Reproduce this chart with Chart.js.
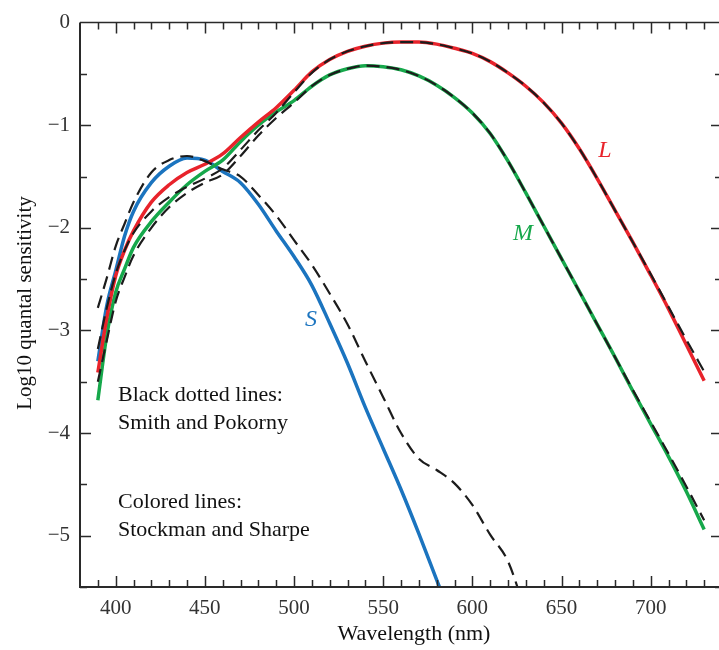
<!DOCTYPE html>
<html>
<head>
<meta charset="utf-8">
<title>Cone fundamentals</title>
<script src="https://cdn.jsdelivr.net/npm/chart.js@4.4.1/dist/chart.umd.min.js"></script>
<style>
html, body { margin: 0; padding: 0; background: #fff; overflow: hidden; }
#wrap { width: 719px; height: 650px; overflow: hidden; }
canvas { display: block; }
</style>
</head>
<body>
<div id="wrap"><canvas id="coneChart" width="740" height="650" style="width:740px;height:650px"></canvas></div>
<script>
// 波长 (nm)
const wavelengths = [390, 395, 400, 405, 410, 420, 430, 440, 450, 460, 470, 480, 490, 500, 510, 520, 530, 540, 550,
    560, 570, 580, 590, 600, 610, 620, 630, 640, 650, 660, 670, 680, 690, 700, 710, 720, 730];
const wavelengthsS = [390, 395, 400, 405, 410, 420, 430, 440, 450, 460, 470, 480, 490, 500, 510, 520, 530, 540, 550,
    560, 570, 580, 590];
const wavelengthsSDash = [390, 395, 400, 405, 410, 420, 430, 440, 450, 460, 470, 480, 490, 500, 510, 520, 530, 540, 550,
    560, 570, 580, 590, 600, 610, 620, 630];

// Stockman and Sharpe (colored)
const lStockman = [-3.41, -2.88, -2.47, -2.22, -2.03, -1.75, -1.58, -1.46, -1.38, -1.28, -1.12, -0.97, -0.83, -0.66, -0.48,
    -0.36, -0.28, -0.23, -0.20, -0.19, -0.19, -0.21, -0.25, -0.30, -0.38, -0.49, -0.62, -0.78, -0.98, -1.23, -1.52,
    -1.83, -2.14, -2.46, -2.79, -3.14, -3.49];
const mStockman = [-3.68, -3.05, -2.63, -2.40, -2.19, -1.94, -1.75, -1.58, -1.45, -1.34, -1.16, -1.00, -0.87, -0.76, -0.62,
    -0.51, -0.45, -0.42, -0.43, -0.46, -0.52, -0.61, -0.73, -0.88, -1.08, -1.35, -1.66, -1.98, -2.30, -2.62, -2.94,
    -3.26, -3.59, -3.91, -4.23, -4.57, -4.94];
const sStockman = [-3.30, -2.76, -2.42, -2.08, -1.84, -1.56, -1.40, -1.32, -1.34, -1.45, -1.56, -1.77, -2.03, -2.28, -2.56,
    -2.93, -3.32, -3.75, -4.15, -4.55, -4.98, -5.43, -5.88];

// Smith and Pokorny (black dashed)
const lPokorny = [-3.18, -2.78, -2.45, -2.22, -2.05, -1.84, -1.70, -1.60, -1.52, -1.42, -1.24, -1.05, -0.88, -0.68, -0.49,
    -0.36, -0.28, -0.23, -0.20, -0.19, -0.19, -0.21, -0.25, -0.30, -0.38, -0.49, -0.62, -0.78, -0.98, -1.23, -1.52,
    -1.83, -2.14, -2.45, -2.77, -3.09, -3.40];
const mPokorny = [-3.50, -3.10, -2.72, -2.48, -2.27, -2.00, -1.80, -1.66, -1.56, -1.48, -1.30, -1.10, -0.93, -0.78, -0.62,
    -0.51, -0.45, -0.42, -0.43, -0.46, -0.52, -0.61, -0.73, -0.88, -1.08, -1.35, -1.66, -1.98, -2.30, -2.62, -2.94,
    -3.26, -3.58, -3.89, -4.20, -4.52, -4.85];
const sPokorny = [-2.78, -2.49, -2.18, -1.96, -1.75, -1.46, -1.34, -1.30, -1.35, -1.43, -1.50, -1.68, -1.88, -2.12, -2.36,
    -2.64, -2.94, -3.30, -3.65, -4.00, -4.25, -4.36, -4.49, -4.70, -4.99, -5.25, -5.75];

// 刻度
const xTickLabels = [400, 450, 500, 550, 600, 650, 700];
const yTickLabels = [0, -1, -2, -3, -4, -5];

const FONT = '"Liberation Serif", "DejaVu Serif", serif';
const RED = '#e8232b';
const GREEN = '#16a84b';
const BLUE = '#1b74bf';
const AXIS = '#2a2a2a';

function toPoints(xs, ys) {
    return xs.map((x, i) => ({ x: x, y: ys[i] }));
}

function colored(label, xs, ys, color) {
    return {
        label: label,
        data: toPoints(xs, ys),
        borderColor: color,
        borderWidth: 3.5,
        pointRadius: 0,
        cubicInterpolationMode: 'monotone',
        order: 1
    };
}

function dashed(label, xs, ys) {
    return {
        label: label,
        data: toPoints(xs, ys),
        borderColor: '#1c1c1c',
        borderWidth: 2.2,
        borderDash: [13, 7],
        pointRadius: 0,
        cubicInterpolationMode: 'monotone',
        order: 0
    };
}

// 坐标框、内向刻度、标题和注释
const framePlugin = {
    id: 'frame',
    afterDraw(chart) {
        const ctx = chart.ctx;
        const xs = chart.scales.x;
        const ys = chart.scales.y;
        const a = chart.chartArea;
        ctx.save();
        ctx.strokeStyle = AXIS;
        ctx.lineCap = 'butt';

        ctx.lineWidth = 2;
        ctx.beginPath();
        ctx.moveTo(a.left, a.top);
        ctx.lineTo(a.left, a.bottom);
        ctx.lineTo(a.right, a.bottom);
        ctx.stroke();
        ctx.lineWidth = 1.5;
        ctx.beginPath();
        ctx.moveTo(a.left, a.top);
        ctx.lineTo(a.right, a.top);
        ctx.lineTo(a.right, a.bottom);
        ctx.stroke();

        ctx.lineWidth = 1.5;
        for (let w = 390; w <= 730; w += 10) {
            const px = Math.round(xs.getPixelForValue(w)) + 0.5;
            const len = w % 50 === 0 ? 11 : 7;
            ctx.beginPath();
            ctx.moveTo(px, a.bottom);
            ctx.lineTo(px, a.bottom - len);
            ctx.moveTo(px, a.top);
            ctx.lineTo(px, a.top + len);
            ctx.stroke();
        }
        for (let v = -5.5; v < 0; v += 0.5) {
            const py = Math.round(ys.getPixelForValue(v)) + 0.5;
            const len = Number.isInteger(v) ? 11 : 7;
            ctx.beginPath();
            ctx.moveTo(a.left, py);
            ctx.lineTo(a.left + len, py);
            ctx.moveTo(a.right, py);
            ctx.lineTo(a.right - len, py);
            ctx.stroke();
        }

        // 轴标题
        ctx.fillStyle = '#111';
        ctx.font = '22px ' + FONT;
        ctx.textAlign = 'center';
        ctx.textBaseline = 'middle';
        ctx.fillText('Wavelength (nm)', 414, 634);
        ctx.save();
        ctx.translate(25, 303);
        ctx.rotate(-Math.PI / 2);
        ctx.font = '21px ' + FONT;
        ctx.fillText('Log10 quantal sensitivity', 0, 0);
        ctx.restore();

        // 注释
        ctx.textAlign = 'left';
        ctx.fillText('Black dotted lines:', 118, 395);
        ctx.fillText('Smith and Pokorny', 118, 423);
        ctx.fillText('Colored lines:', 118, 502);
        ctx.fillText('Stockman and Sharpe', 118, 530);

        ctx.font = 'italic 24px ' + FONT;
        ctx.textAlign = 'center';
        ctx.fillStyle = RED;
        ctx.fillText('L', 605, 151);
        ctx.fillStyle = GREEN;
        ctx.fillText('M', 523, 234);
        ctx.fillStyle = BLUE;
        ctx.fillText('S', 311, 320);
        ctx.restore();
    }
};

const chart = new Chart(document.getElementById('coneChart'), {
    type: 'line',
    data: {
        datasets: [
            dashed('L Smith and Pokorny', wavelengths, lPokorny),
            dashed('M Smith and Pokorny', wavelengths, mPokorny),
            dashed('S Smith and Pokorny', wavelengthsSDash, sPokorny),
            colored('L', wavelengths, lStockman, RED),
            colored('M', wavelengths, mStockman, GREEN),
            colored('S', wavelengthsS, sStockman, BLUE)
        ]
    },
    options: {
        responsive: false,
        animation: false,
        layout: { padding: { top: 15, right: 18, left: 0, bottom: 0 } },
        plugins: {
            legend: { display: false },
            tooltip: { enabled: false }
        },
        scales: {
            x: {
                type: 'linear',
                min: 380,
                max: 740,
                grid: { display: false, drawTicks: false },
                border: { display: false },
                afterFit: (scale) => { scale.height = 63; },
                afterBuildTicks: (scale) => { scale.ticks = xTickLabels.map(v => ({ value: v })); },
                ticks: {
                    padding: 9,
                    color: '#333',
                    font: { family: FONT, size: 21 },
                    maxRotation: 0
                }
            },
            y: {
                type: 'linear',
                min: -5.5,
                max: 0,
                grid: { display: false, drawTicks: false },
                border: { display: false },
                afterFit: (scale) => { scale.width = 80; },
                afterBuildTicks: (scale) => { scale.ticks = yTickLabels.map(v => ({ value: v })); },
                ticks: {
                    padding: 10,
                    color: '#333',
                    font: { family: FONT, size: 21 },
                    callback: (v) => v === 0 ? '0' : '\u2212' + Math.abs(v)
                }
            }
        }
    },
    plugins: [framePlugin]
});
</script>
</body>
</html>
